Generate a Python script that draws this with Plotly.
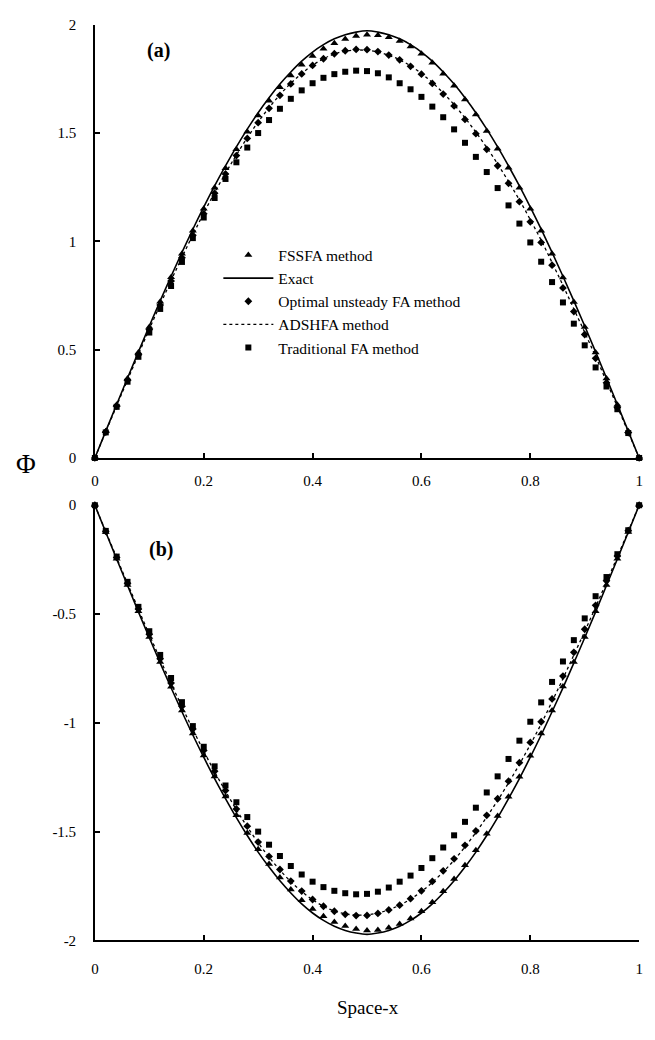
import plotly.graph_objects as go

# ---------------- data ----------------
x_pts = [0.00, 0.02, 0.04, 0.06, 0.08, 0.10, 0.12, 0.14, 0.16, 0.18,
         0.20, 0.22, 0.24, 0.26, 0.28, 0.30, 0.32, 0.34, 0.36, 0.38,
         0.40, 0.42, 0.44, 0.46, 0.48, 0.50, 0.52, 0.54, 0.56, 0.58,
         0.60, 0.62, 0.64, 0.66, 0.68, 0.70, 0.72, 0.74, 0.76, 0.78,
         0.80, 0.82, 0.84, 0.86, 0.88, 0.90, 0.92, 0.94, 0.96, 0.98, 1.00]

# panel (a)
exact_a = [0.000, 0.124, 0.247, 0.369, 0.490, 0.609, 0.725, 0.839, 0.949, 1.056,
           1.158, 1.256, 1.348, 1.436, 1.518, 1.594, 1.663, 1.726, 1.782, 1.832,
           1.874, 1.908, 1.935, 1.954, 1.966, 1.972, 1.966, 1.954, 1.935, 1.908,
           1.874, 1.832, 1.782, 1.726, 1.663, 1.594, 1.518, 1.436, 1.348, 1.256,
           1.158, 1.056, 0.949, 0.839, 0.725, 0.609, 0.490, 0.369, 0.247, 0.124, 0.000]
fssfa_a = [0.000, 0.123, 0.246, 0.367, 0.487, 0.605, 0.721, 0.834, 0.943, 1.049,
           1.150, 1.247, 1.338, 1.425, 1.506, 1.581, 1.649, 1.711, 1.766, 1.815,
           1.856, 1.889, 1.915, 1.934, 1.948, 1.954, 1.952, 1.942, 1.925, 1.899,
           1.866, 1.824, 1.774, 1.718, 1.655, 1.586, 1.510, 1.428, 1.340, 1.248,
           1.151, 1.049, 0.943, 0.833, 0.720, 0.605, 0.487, 0.367, 0.246, 0.123, 0.000]
optimal_a = [0.000, 0.120, 0.240, 0.359, 0.477, 0.593, 0.706, 0.817, 0.924, 1.028,
             1.127, 1.222, 1.311, 1.396, 1.475, 1.548, 1.614, 1.674, 1.727, 1.773,
             1.812, 1.843, 1.866, 1.880, 1.886, 1.885, 1.876, 1.860, 1.838, 1.808,
             1.772, 1.729, 1.680, 1.625, 1.563, 1.497, 1.425, 1.349, 1.268, 1.183,
             1.090, 0.995, 0.890, 0.785, 0.676, 0.570, 0.460, 0.347, 0.233, 0.117, 0.000]
adshfa_a = [0.000, 0.121, 0.241, 0.360, 0.478, 0.594, 0.708, 0.819, 0.926, 1.030,
            1.130, 1.225, 1.314, 1.399, 1.478, 1.551, 1.617, 1.677, 1.730, 1.775,
            1.813, 1.843, 1.865, 1.878, 1.883, 1.882, 1.874, 1.859, 1.838, 1.810,
            1.775, 1.733, 1.685, 1.631, 1.570, 1.504, 1.433, 1.357, 1.276, 1.191,
            1.100, 1.005, 0.902, 0.797, 0.688, 0.580, 0.468, 0.353, 0.237, 0.119, 0.000]
trad_a = [0.000, 0.118, 0.236, 0.352, 0.467, 0.579, 0.688, 0.794, 0.905, 1.015,
          1.110, 1.200, 1.288, 1.365, 1.433, 1.500, 1.560, 1.612, 1.658, 1.697,
          1.730, 1.755, 1.772, 1.783, 1.788, 1.786, 1.776, 1.757, 1.730, 1.702,
          1.667, 1.622, 1.573, 1.517, 1.455, 1.390, 1.320, 1.246, 1.166, 1.082,
          0.995, 0.906, 0.812, 0.718, 0.620, 0.520, 0.418, 0.330, 0.225, 0.115, 0.000]

# panel (b)
exact_b = [0.000, -0.124, -0.247, -0.369, -0.490, -0.609, -0.725, -0.839, -0.949, -1.056,
           -1.158, -1.256, -1.348, -1.436, -1.518, -1.594, -1.663, -1.726, -1.782, -1.832,
           -1.874, -1.908, -1.935, -1.954, -1.966, -1.972, -1.966, -1.954, -1.935, -1.908,
           -1.874, -1.832, -1.782, -1.726, -1.663, -1.594, -1.518, -1.436, -1.348, -1.256,
           -1.158, -1.056, -0.949, -0.839, -0.725, -0.609, -0.490, -0.369, -0.247, -0.124, 0.000]
fssfa_b = [0.000, -0.123, -0.246, -0.367, -0.487, -0.605, -0.721, -0.834, -0.943, -1.049,
           -1.150, -1.247, -1.338, -1.425, -1.506, -1.581, -1.649, -1.711, -1.766, -1.815,
           -1.856, -1.889, -1.915, -1.934, -1.948, -1.954, -1.952, -1.942, -1.925, -1.899,
           -1.866, -1.824, -1.774, -1.718, -1.655, -1.586, -1.510, -1.428, -1.340, -1.248,
           -1.151, -1.049, -0.943, -0.833, -0.720, -0.605, -0.487, -0.367, -0.246, -0.123, 0.000]
optimal_b = [0.000, -0.120, -0.240, -0.359, -0.477, -0.593, -0.706, -0.817, -0.924, -1.028,
             -1.127, -1.222, -1.311, -1.396, -1.475, -1.548, -1.614, -1.674, -1.727, -1.773,
             -1.812, -1.843, -1.866, -1.880, -1.886, -1.885, -1.876, -1.860, -1.838, -1.808,
             -1.772, -1.729, -1.680, -1.625, -1.563, -1.497, -1.425, -1.349, -1.268, -1.183,
             -1.090, -0.995, -0.890, -0.785, -0.676, -0.570, -0.460, -0.347, -0.233, -0.117, 0.000]
adshfa_b = [0.000, -0.121, -0.241, -0.360, -0.478, -0.594, -0.708, -0.819, -0.926, -1.030,
            -1.130, -1.225, -1.314, -1.399, -1.478, -1.551, -1.617, -1.677, -1.730, -1.775,
            -1.813, -1.843, -1.865, -1.878, -1.883, -1.882, -1.874, -1.859, -1.838, -1.810,
            -1.775, -1.733, -1.685, -1.631, -1.570, -1.504, -1.433, -1.357, -1.276, -1.191,
            -1.100, -1.005, -0.902, -0.797, -0.688, -0.580, -0.468, -0.353, -0.237, -0.119, 0.000]
trad_b = [0.000, -0.118, -0.236, -0.352, -0.467, -0.579, -0.688, -0.794, -0.905, -1.015,
          -1.110, -1.200, -1.288, -1.365, -1.433, -1.500, -1.560, -1.612, -1.658, -1.697,
          -1.730, -1.755, -1.772, -1.783, -1.788, -1.786, -1.776, -1.757, -1.730, -1.702,
          -1.667, -1.622, -1.573, -1.517, -1.455, -1.390, -1.320, -1.246, -1.166, -1.082,
          -0.995, -0.906, -0.812, -0.718, -0.620, -0.520, -0.418, -0.330, -0.225, -0.115, 0.000]

x_tickvals = [0, 0.2, 0.4, 0.6, 0.8, 1]
x_ticktext = ["0", "0.2", "0.4", "0.6", "0.8", "1"]
ya_tickvals = [0, 0.5, 1, 1.5, 2]
ya_ticktext = ["0", "0.5", "1", "1.5", "2"]
yb_tickvals = [-2, -1.5, -1, -0.5, 0]
yb_ticktext = ["-2", "-1.5", "-1", "-0.5", "0"]

names = ["FSSFA method", "Exact", "Optimal unsteady FA method",
         "ADSHFA method", "Traditional FA method"]

# ---------------- figure ----------------
W, H = 655, 1040
FONT = "Liberation Serif, Times New Roman, serif"
BLACK = "#000000"

fig = go.Figure()


def add_panel(xa, ya, exact, fssfa, optimal, adshfa, trad, show):
    fig.add_trace(go.Scatter(x=x_pts, y=fssfa, mode="markers", name=names[0],
                             marker=dict(symbol="triangle-up", size=7, color=BLACK),
                             xaxis=xa, yaxis=ya, showlegend=show, cliponaxis=False))
    fig.add_trace(go.Scatter(x=x_pts, y=exact, mode="lines", name=names[1],
                             line=dict(color=BLACK, width=1.6, shape="spline"),
                             xaxis=xa, yaxis=ya, showlegend=show, cliponaxis=False))
    fig.add_trace(go.Scatter(x=x_pts, y=optimal, mode="markers", name=names[2],
                             marker=dict(symbol="diamond", size=6, color=BLACK),
                             xaxis=xa, yaxis=ya, showlegend=show, cliponaxis=False))
    fig.add_trace(go.Scatter(x=x_pts, y=adshfa, mode="lines", name=names[3],
                             line=dict(color=BLACK, width=1.3, dash="3px,3px", shape="spline"),
                             xaxis=xa, yaxis=ya, showlegend=show, cliponaxis=False))
    fig.add_trace(go.Scatter(x=x_pts, y=trad, mode="markers", name=names[4],
                             marker=dict(symbol="square", size=6, color=BLACK),
                             xaxis=xa, yaxis=ya, showlegend=show, cliponaxis=False))


add_panel("x", "y", exact_a, fssfa_a, optimal_a, adshfa_a, trad_a, True)
add_panel("x2", "y2", exact_b, fssfa_b, optimal_b, adshfa_b, trad_b, False)

x_dom = [92 / W, 643 / W]
tickfont = dict(family=FONT, size=15, color=BLACK)

xcommon = dict(domain=x_dom, range=[0, 1], showline=True, linecolor=BLACK, linewidth=2,
               ticks="inside", ticklen=5, tickwidth=1.5, tickcolor=BLACK,
               tickvals=x_tickvals, ticktext=x_ticktext, tickfont=tickfont,
               showgrid=False, zeroline=False, fixedrange=True)
ycommon = dict(showline=True, linecolor=BLACK, linewidth=1.5,
               ticks="inside", ticklen=5, tickwidth=1.5, tickcolor=BLACK,
               tickfont=tickfont, showgrid=False, zeroline=False, fixedrange=True,
               ticklabelstandoff=14)


def label(text, px, py, size):
    return dict(text=text, x=px / W, y=1 - py / H, xref="paper", yref="paper",
                xanchor="center", yanchor="middle", showarrow=False,
                font=dict(family=FONT, size=size, color=BLACK))


fig.update_layout(
    width=W, height=H, autosize=False,
    margin=dict(l=0, r=0, t=0, b=0),
    paper_bgcolor="white", plot_bgcolor="white",
    font=dict(family=FONT, color=BLACK),
    xaxis=dict(xcommon, anchor="y", ticklabelstandoff=8),
    yaxis=dict(ycommon, anchor="x", domain=[1 - 457 / H, 1 - 17 / H], range=[0, 2],
               tickvals=ya_tickvals, ticktext=ya_ticktext),
    xaxis2=dict(xcommon, anchor="y2", ticklabelstandoff=14),
    yaxis2=dict(ycommon, anchor="x2", domain=[1 - 947 / H, 1 - 505 / H], range=[-2, 0],
                tickvals=yb_tickvals, ticktext=yb_ticktext),
    legend=dict(x=217 / W, y=1 - 234 / H, xanchor="left", yanchor="top",
                bgcolor="rgba(0,0,0,0)", borderwidth=0, itemwidth=50,
                font=dict(family=FONT, size=15.5, color=BLACK), traceorder="normal"),
    annotations=[
        label("<b>(a)</b>", 156, 43, 20),
        label("<b>(b)</b>", 159, 550, 20),
        label("Φ", 22, 463, 27),
        label("Space-x", 368, 1015, 19),
    ],
)

fig.write_html("out.html")
